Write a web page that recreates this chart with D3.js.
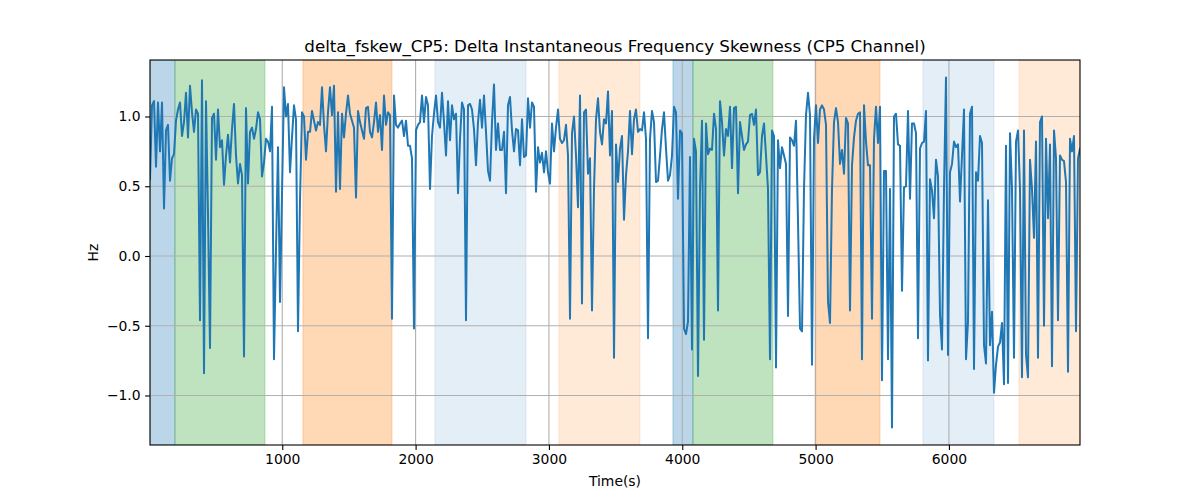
<!DOCTYPE html>
<html><head><meta charset="utf-8">
<script src="https://cdn.jsdelivr.net/npm/d3@7"></script>
<style>body{margin:0;background:#fff}svg{display:block;font-family:"DejaVu Sans",sans-serif}</style>
</head><body><svg id="c" width="1200" height="500"></svg>
<script>
const title = "delta_fskew_CP5: Delta Instantaneous Frequency Skewness (CP5 Channel)";
const xLabel = "Time(s)";
const yLabel = "Hz";
const tStart = 8;
const tStep = 15;
const xTicks = [1000, 2000, 3000, 4000, 5000, 6000];
const yTicks = [-1.0, -0.5, 0.0, 0.5, 1.0];
const values = [
0.55,1.08,1.11,0.64,1.10,0.75,1.10,0.34,0.90,0.94,0.54,0.70,0.73,0.97,1.05,1.10,0.86,0.96,1.17,0.85,1.22,1.03,0.89,1.05,1.02,-0.46,1.26,-0.84,1.11,0.30,-0.66,0.99,1.02,0.69,1.05,0.78,0.83,0.51,0.72,0.87,0.67,0.91,1.09,0.72,0.52,0.66,0.58,-0.72,1.06,0.52,0.89,0.92,0.84,0.91,1.03,0.98,0.57,0.67,0.84,0.82,0.75,
1.07,-0.74,0.05,0.78,-0.33,0.45,1.21,1.00,1.09,0.60,0.85,1.08,0.98,-0.54,0.40,1.03,1.00,0.69,0.89,0.89,1.04,0.97,0.90,0.96,0.94,1.21,0.94,0.75,1.03,1.21,1.01,1.22,0.46,1.03,0.48,1.02,0.85,1.02,1.15,1.02,0.97,0.92,0.42,1.04,0.96,0.90,0.84,1.06,1.07,0.89,0.85,0.96,1.10,0.89,1.01,0.76,1.15,0.94,1.03,1.01,-0.45,1.15,
0.94,0.92,0.95,0.97,0.86,0.97,0.79,0.79,0.70,-0.52,0.90,0.94,0.96,1.15,0.96,1.14,1.08,0.48,0.86,1.02,1.15,0.96,0.92,1.17,0.96,0.72,1.11,0.83,1.08,0.98,1.02,0.45,0.84,1.10,1.05,-0.46,1.08,1.09,1.05,0.91,0.65,0.96,1.12,0.92,1.15,0.89,0.61,0.54,0.96,1.23,0.76,0.95,0.76,0.76,0.89,0.45,1.08,1.14,0.90,0.75,0.91,0.90,0.65,
0.98,0.71,0.72,1.13,0.92,1.10,1.07,0.46,0.78,0.67,0.74,0.60,0.75,0.60,0.52,0.95,0.75,0.92,1.05,0.84,0.81,0.83,0.94,0.72,-0.45,0.88,1.00,0.72,0.35,1.15,-0.34,1.03,1.05,0.59,0.70,-0.39,0.48,0.98,1.13,0.89,0.80,0.98,0.95,1.18,0.72,1.04,-0.73,0.80,0.53,0.77,0.86,0.26,0.58,0.75,1.04,0.73,0.98,1.05,0.89,0.91,0.90,1.03,
0.84,-0.59,0.84,1.04,0.96,0.53,0.54,0.72,0.91,1.03,0.77,0.54,0.58,0.72,1.07,1.03,0.41,0.90,0.88,-0.52,-0.56,-0.47,0.71,-0.67,0.84,0.75,-0.86,0.48,0.97,-0.60,0.95,0.73,0.77,0.76,1.02,0.91,-0.39,1.11,0.96,0.72,0.91,0.86,1.07,0.63,1.06,1.07,0.45,0.96,0.86,0.76,0.80,0.82,1.01,1.02,0.94,1.05,0.58,0.60,0.86,0.95,0.72,0.48,-0.74,
0.90,0.86,-0.80,0.83,0.63,0.78,0.72,0.66,-0.43,0.85,0.83,0.79,0.97,0.25,-0.52,-0.54,0.48,1.01,1.17,1.01,-0.78,0.84,1.08,0.81,1.05,1.08,1.05,0.94,-0.33,-0.48,0.48,0.96,1.06,0.96,0.66,0.76,0.59,0.99,0.95,-0.39,0.65,0.85,0.97,1.02,1.03,-0.74,1.08,0.82,0.65,0.65,-0.45,0.84,1.07,0.81,1.07,-0.89,0.61,0.61,-0.74,0.48,-1.23,1.00,
1.02,0.80,0.79,-0.25,0.49,0.50,1.04,0.41,0.95,0.95,0.88,-0.59,0.77,0.81,0.82,1.04,-0.75,0.55,0.47,0.27,0.69,0.57,-0.42,-0.67,0.48,1.28,-0.71,0.60,0.66,0.82,0.78,0.80,0.39,0.72,1.05,-0.74,-0.47,1.02,1.07,-0.81,0.60,0.54,0.86,0.81,-0.64,-0.77,0.40,-0.64,-0.40,-0.98,-0.78,-0.65,-0.62,-0.48,-0.92,0.79,-0.91,0.88,0.48,-0.73,0.82,0.90,0.48,
-0.87,0.90,-0.71,-0.87,0.69,0.48,0.13,0.82,-0.73,0.96,1.00,-0.50,0.84,0.27,0.80,-0.79,0.90,0.70,-0.46,0.72,0.69,0.68,0.53,-0.83,0.84,0.75,0.86,-0.54,0.70,0.77
];
const spanStarts = [8, 195, 1155, 2145, 3075, 3930, 4080, 4995, 5805, 6525];
const spanEnds   = [195, 870, 1823, 2828, 3683, 4080, 4680, 5483, 6338, 6983];
const spanColors = ["#1f77b4","#2ca02c","#ff7f0e","#1f77b4","#ff7f0e","#1f77b4","#2ca02c","#ff7f0e","#1f77b4","#ff7f0e"];
const spanAlphas = [0.3,0.3,0.3,0.12,0.16,0.3,0.3,0.3,0.12,0.16];

const times = values.map((v,i)=>tStart + i*tStep);
const data = values.map((v,i)=>({t:times[i], v}));

const M = {l:150, r:1080, t:60, b:445};
const svg = d3.select("#c");
const x = d3.scaleLinear().domain(d3.extent(times)).range([M.l, M.r]);
const y = d3.scaleLinear().domain([-1.355, 1.405]).range([M.b, M.t]);

const clipId = "clip";
svg.append("defs").append("clipPath").attr("id", clipId)
  .append("rect").attr("x", M.l).attr("y", M.t).attr("width", M.r-M.l).attr("height", M.b-M.t);

const plot = svg.append("g").attr("clip-path", `url(#${clipId})`);
spanStarts.forEach((s,i)=>{
  plot.append("rect")
    .attr("x", x(s)).attr("y", M.t)
    .attr("width", x(spanEnds[i]) - x(s)).attr("height", M.b - M.t)
    .attr("fill", spanColors[i]).attr("fill-opacity", spanAlphas[i])
    .attr("stroke", spanColors[i]).attr("stroke-opacity", spanAlphas[i]).attr("stroke-width", 1);
});

// grid
plot.selectAll(".gx").data(xTicks).enter().append("line")
  .attr("x1", d=>x(d)).attr("x2", d=>x(d)).attr("y1", M.t).attr("y2", M.b)
  .attr("stroke", "#b0b0b0").attr("stroke-width", 1.1);
plot.selectAll(".gy").data(yTicks).enter().append("line")
  .attr("y1", d=>y(d)).attr("y2", d=>y(d)).attr("x1", M.l).attr("x2", M.r)
  .attr("stroke", "#b0b0b0").attr("stroke-width", 1.1);

plot.append("path").datum(data)
  .attr("fill", "none").attr("stroke", "#1f77b4").attr("stroke-width", 2)
  .attr("stroke-linejoin", "round").attr("stroke-linecap", "square")
  .attr("d", d3.line().x(d=>x(d.t)).y(d=>y(d.v)));

// axes
const fmtY = d => d3.format(".1f")(d).replace("-", "\u2212");
const xAxis = d3.axisBottom(x).tickValues(xTicks).tickFormat(d3.format("d")).tickSizeOuter(0).tickSize(4.9).tickPadding(4.5);
const yAxis = d3.axisLeft(y).tickValues(yTicks).tickFormat(fmtY).tickSizeOuter(0).tickSize(4.9).tickPadding(4.5);
const gx = svg.append("g").attr("transform", `translate(0,${M.b})`).call(xAxis);
const gy = svg.append("g").attr("transform", `translate(${M.l},0)`).call(yAxis);
[gx, gy].forEach(g=>{
  g.select(".domain").remove();
  g.selectAll(".tick line").attr("stroke", "#000").attr("stroke-width", 1.1);
  g.selectAll(".tick text").attr("fill", "#000").style("font-size", "13.9px").style("font-family", "DejaVu Sans");
});

svg.append("rect").attr("x", M.l).attr("y", M.t).attr("width", M.r-M.l).attr("height", M.b-M.t)
  .attr("fill", "none").attr("stroke", "#000").attr("stroke-width", 1.1);

svg.append("text").attr("x", (M.l+M.r)/2).attr("y", 52).attr("text-anchor", "middle")
  .style("font-size", "16.7px").text(title);
svg.append("text").attr("x", (M.l+M.r)/2).attr("y", 486).attr("text-anchor", "middle")
  .style("font-size", "13.9px").text(xLabel);
svg.append("text").attr("transform", `translate(98,${(M.t+M.b)/2}) rotate(-90)`).attr("text-anchor", "middle")
  .style("font-size", "13.9px").text(yLabel);
</script></body></html>
